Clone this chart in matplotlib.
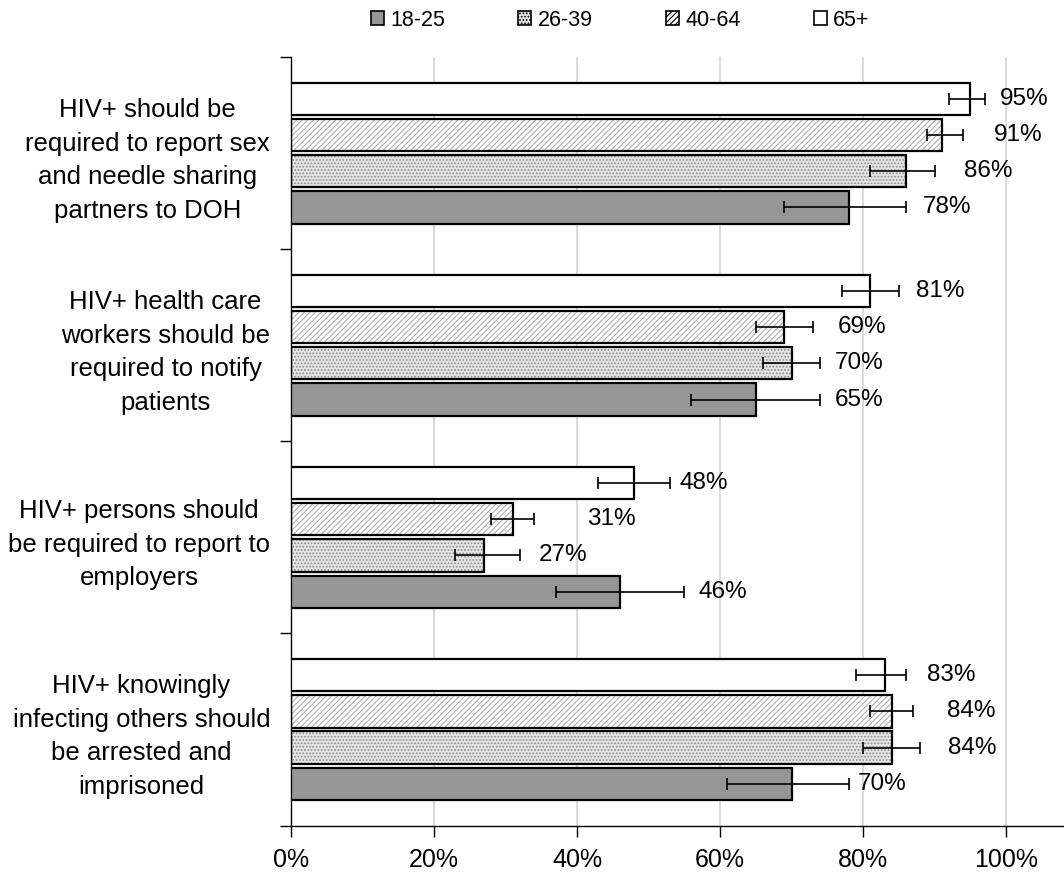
import matplotlib
matplotlib.use('Agg')
import matplotlib.pyplot as plt
from matplotlib.patches import Patch
import numpy as np

plt.rcParams['font.family'] = ['Liberation Sans', 'DejaVu Sans']
plt.rcParams['font.size'] = 18
plt.rcParams['hatch.linewidth'] = 0.8

# statements, top to bottom
statements = [
    'HIV+ should be\nrequired to report sex\nand needle sharing\npartners to DOH',
    'HIV+ health care\nworkers should be\nrequired to notify\npatients',
    'HIV+ persons should\nbe required to report to\nemployers',
    'HIV+ knowingly\ninfecting others should\nbe arrested and\nimprisoned',
]
age_groups = ['18-25', '26-39', '40-64', '65+']

# percent agreeing, per age group (same order as statements)
pct_18_25 = [78, 65, 46, 70]
pct_26_39 = [86, 70, 27, 84]
pct_40_64 = [91, 69, 31, 84]
pct_65 = [95, 81, 48, 83]

# confidence interval bounds
lo_18_25 = [69, 56, 37, 61]
hi_18_25 = [86, 74, 55, 78]
lo_26_39 = [81, 66, 23, 80]
hi_26_39 = [90, 74, 32, 88]
lo_40_64 = [89, 65, 28, 81]
hi_40_64 = [94, 73, 34, 87]
lo_65 = [92, 77, 43, 79]
hi_65 = [97, 85, 53, 86]

# where the value labels start (percent axis)
lab_18_25 = [88.3, 76.1, 57.0, 79.3]
lab_26_39 = [94.1, 76.1, 34.7, 91.9]
lab_40_64 = [98.3, 76.5, 41.4, 91.7]
lab_65 = [99.1, 87.4, 54.3, 88.9]

series = [
    (pct_18_25, lo_18_25, hi_18_25, lab_18_25),
    (pct_26_39, lo_26_39, hi_26_39, lab_26_39),
    (pct_40_64, lo_40_64, hi_40_64, lab_40_64),
    (pct_65, lo_65, hi_65, lab_65),
]
styles = [
    dict(facecolor='#969696', hatch=None, hcolor=None),
    dict(facecolor='#e4e4e4', hatch='.....', hcolor='#8a8a8a'),
    dict(facecolor='white', hatch='//////', hcolor='#b0b0b0'),
    dict(facecolor='white', hatch=None, hcolor=None),
]

fig = plt.figure(figsize=(10.64, 8.73), dpi=100)
ax = fig.add_axes([0.2735, 0.0544, 0.7265, 0.8803])

n = len(statements)
centers = np.arange(n)[::-1].astype(float)
offsets = [-0.283, -0.094, 0.094, 0.283]
height = 0.168

for k, (vals, lo, hi, labx) in enumerate(series):
    st = styles[k]
    y = centers + offsets[k]
    vals = np.array(vals, dtype=float)
    if st['hatch']:
        ax.barh(y, vals, height=height, color=st['facecolor'],
                hatch=st['hatch'], edgecolor=st['hcolor'], linewidth=0, zorder=2)
        ax.barh(y, vals, height=height, fill=False, edgecolor='black',
                linewidth=1.6, zorder=3)
    else:
        ax.barh(y, vals, height=height, color=st['facecolor'],
                edgecolor='black', linewidth=1.6, zorder=3)
    xerr = [vals - np.array(lo), np.array(hi) - vals]
    ax.errorbar(vals, y, xerr=xerr, fmt='none', ecolor='black',
                elinewidth=1.2, capsize=4.5, capthick=1.2, zorder=4)
    for yy, v, lx in zip(y, vals, labx):
        ax.text(lx, yy, '%d%%' % v, ha='left', va='center', fontsize=17.5, zorder=5)

ax.set_xlim(0, 108.1)
ax.set_ylim(-0.5, n - 0.5)
ax.set_xticks(np.arange(0, 101, 20))
ax.set_xticklabels(['%d%%' % t for t in range(0, 101, 20)])
ax.xaxis.grid(True, color='#d4d4d4', linewidth=1.2, zorder=0)
ax.set_axisbelow(True)

# group boundaries as major ticks, statements as minor tick labels
ax.set_yticks(np.arange(-0.5, n, 1.0))
ax.set_yticklabels([])
ax.set_yticks(centers, minor=True)
ax.set_yticklabels(statements, minor=True, multialignment='center',
                   linespacing=1.5, fontsize=18.5)
ax.tick_params(axis='y', which='minor', length=0, pad=15)
ax.tick_params(axis='y', which='major', length=8, width=1, direction='out')
ax.tick_params(axis='x', length=8, width=1, direction='out', pad=8.5, labelsize=18)

for s in ['top', 'right']:
    ax.spines[s].set_visible(False)
ax.spines['left'].set_linewidth(1)
ax.spines['bottom'].set_linewidth(1)

handles = []
for st in styles:
    handles.append(Patch(facecolor=st['facecolor'], hatch=st['hatch'],
                         edgecolor='black', linewidth=1.2))
fig.legend(handles, age_groups, loc='center', bbox_to_anchor=(0.583, 0.977),
           ncol=4, frameon=False, handlelength=0.6, handleheight=0.6,
           handletextpad=0.3, columnspacing=3.4, fontsize=15.5)

fig.savefig('out.png', dpi=100)
